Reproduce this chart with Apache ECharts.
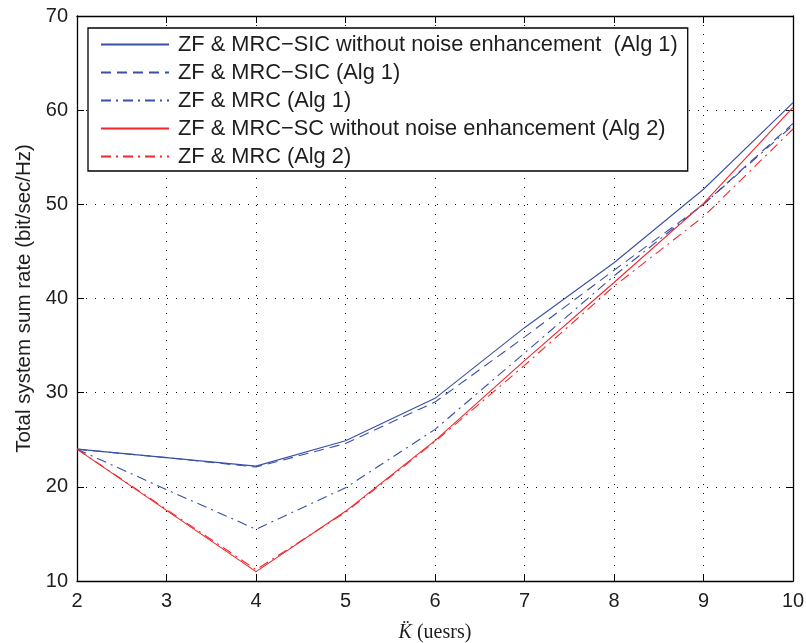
<!DOCTYPE html>
<html><head><meta charset="utf-8">
<script src="https://cdn.jsdelivr.net/npm/echarts@6/dist/echarts.min.js"></script>
<style>html,body{margin:0;padding:0;background:#fff}#c{width:806px;height:643px}</style>
</head><body><div id="c"></div>
<script>
const users = [2, 3, 4, 5, 6, 7, 8, 9, 10];
const sicNoEnhAlg1 = [24.0, 23.1, 22.2, 24.9, 29.4, 36.9, 43.8, 51.6, 60.8];
const sicAlg1      = [24.0, 23.1, 22.1, 24.6, 29.0, 35.9, 43.0, 50.0, 58.6];
const mrcAlg1      = [24.0, 19.7, 15.5, 19.9, 26.1, 34.2, 42.4, 50.0, 58.4];
const scNoEnhAlg2  = [24.0, 17.5, 11.0, 17.4, 24.9, 33.4, 41.7, 50.1, 60.3];
const mrcAlg2      = [24.0, 17.6, 11.2, 17.3, 24.8, 32.9, 41.3, 48.7, 58.0];
const names = [
  'ZF & MRC\u2212SIC without noise enhancement  (Alg 1)',
  'ZF & MRC\u2212SIC (Alg 1)',
  'ZF & MRC (Alg 1)',
  'ZF & MRC\u2212SC without noise enhancement (Alg 2)',
  'ZF & MRC (Alg 2)'
];
const xTicks = [2, 3, 4, 5, 6, 7, 8, 9, 10];
const yTicks = [10, 20, 30, 40, 50, 60, 70];

const blue = '#3a4fa6', red = '#f2262b';
const dashed = [10, 6];
const dashDot = [10, 5, 2, 5];
const font = 'Liberation Sans, Arial, Helvetica, sans-serif';
const ink = '#1e1e1e';

function mk(name, data, color, type) {
  return {
    name, type: 'line', data: users.map((u, i) => [u, data[i]]),
    symbol: 'none', showSymbol: false, animation: false,
    lineStyle: { color, width: 1.1, type }, itemStyle: { color },
    emphasis: { disabled: true }
  };
}
const chart = echarts.init(document.getElementById('c'), null, { renderer: 'canvas' });
const axisCommon = {
  axisLine: { show: true, onZero: false, lineStyle: { color: '#000', width: 1.3 } },
  axisTick: { show: true, inside: true, length: 7, lineStyle: { color: '#000' } },
};
chart.setOption({
  animation: false,
  backgroundColor: '#fff',
  grid: { left: 77, right: 13, top: 16, bottom: 62, containLabel: false, outerBoundsMode: 'none' },
  legend: {
    orient: 'vertical', left: 88, top: 28,
    backgroundColor: '#fff',
    borderColor: '#000', borderWidth: 1.3, borderRadius: 0,
    padding: [5, 10, 3, 12],
    itemWidth: 68, itemHeight: 14, itemGap: 5,
    itemStyle: { opacity: 0 },
    textStyle: { fontFamily: font, fontSize: 21.8, color: ink, lineHeight: 23, padding: [0, 0, 0, 4] },
    data: names
  },
  xAxis: [{
    type: 'value', min: 2, max: 10, interval: 1, position: 'bottom',
    ...axisCommon,
    splitLine: { show: true, lineStyle: { color: '#000', type: [1, 8], width: 1 } },
    axisLabel: { fontFamily: font, fontSize: 20, color: ink, margin: 10 },
    name: '{k|K\u0308} (uesrs)', nameLocation: 'middle', nameGap: 42,
    nameTextStyle: { fontFamily: 'Liberation Serif, Times New Roman, serif', fontSize: 20, color: ink,
      rich: { k: { fontFamily: 'Liberation Serif, Times New Roman, serif', fontStyle: 'italic', fontSize: 20, color: ink } } }
  }, {
    type: 'value', min: 2, max: 10, interval: 1, position: 'top',
    ...axisCommon, axisLabel: { show: false }, splitLine: { show: false }
  }],
  yAxis: [{
    type: 'value', min: 10, max: 70, interval: 10, position: 'left',
    ...axisCommon,
    splitLine: { show: true, lineStyle: { color: '#000', type: [1, 8], width: 1 } },
    axisLabel: { fontFamily: font, fontSize: 20, color: ink, margin: 9 },
    name: 'Total system sum rate (bit/sec/Hz)', nameLocation: 'middle', nameGap: 39,
    nameTextStyle: { fontFamily: font, fontSize: 20.5, color: ink }
  }, {
    type: 'value', min: 10, max: 70, interval: 10, position: 'right',
    ...axisCommon, axisLabel: { show: false }, splitLine: { show: false }
  }],
  series: [
    mk(names[0], sicNoEnhAlg1, blue, 'solid'),
    mk(names[1], sicAlg1, blue, dashed),
    mk(names[2], mrcAlg1, blue, dashDot),
    mk(names[3], scNoEnhAlg2, red, 'solid'),
    mk(names[4], mrcAlg2, red, dashDot)
  ]
});
</script></body></html>
